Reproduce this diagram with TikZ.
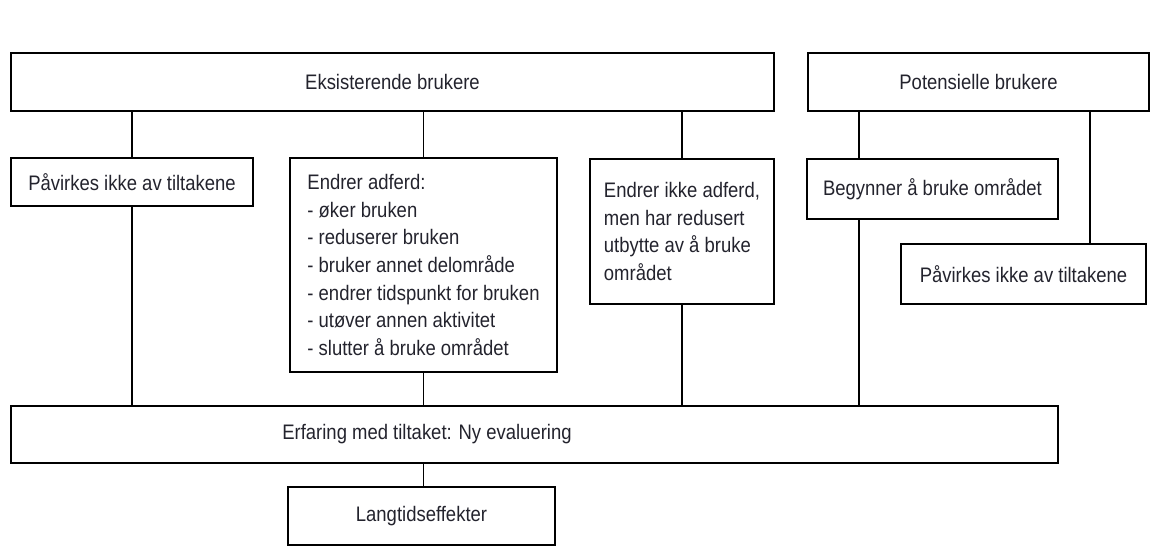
\documentclass[tikz,border=0pt]{standalone}
\usepackage{fontspec}
\setmainfont{Liberation Sans}[FakeStretch=0.88]
\usepackage{xcolor}
\definecolor{tekst}{RGB}{35,35,45}

\begin{document}
\begin{tikzpicture}[x=1pt,y=-1pt,
  font=\fontsize{21pt}{27.7pt}\selectfont,
  boks/.style={draw, line width=1.3pt, text=tekst, inner sep=0pt},
  linje/.style={line width=1.3pt}]

\useasboundingbox (0,0) rectangle (1157,556);

\node[boks, minimum width=763, minimum height=58] (eks) at (392.5,82) {Eksisterende brukere};
\node[boks, minimum width=341, minimum height=58] (pot) at (978.5,82) {Potensielle brukere};

\node[boks, minimum width=242, minimum height=48] (ikke) at (132,182) {Påvirkes ikke av tiltakene};
\node[boks, minimum width=267, minimum height=214, align=left] (endrer) at (423.5,265)
  {Endrer adferd:\\- øker bruken\\- reduserer bruken\\- bruker annet delområde\\- endrer tidspunkt for bruken\\- utøver annen aktivitet\\- slutter å bruke området};
\node[boks, minimum width=184, minimum height=145, align=left] (endrerikke) at (682,231.5)
  {Endrer ikke adferd,\\men har redusert\\utbytte av å bruke\\området};
\node[boks, minimum width=251, minimum height=60] (begynner) at (932.5,189) {Begynner å bruke området};
\node[boks, minimum width=245, minimum height=60] (ikkepot) at (1023.5,274) {Påvirkes ikke av tiltakene};

\node[boks, minimum width=1047, minimum height=57,
  label={[text=tekst, xshift=-107.5]center:Erfaring med tiltaket: Ny evaluering}] (erfaring) at (534.5,434.5) {};
\node[boks, minimum width=267, minimum height=58] (lang) at (421.5,516) {Langtidseffekter};

\coordinate (pv) at (859,0);
\coordinate (ph) at (1090,0);

% eksisterende brukere
\draw[linje] (ikke.north) -- (ikke.north |- eks.south);
\draw[linje] (ikke.south) -- (ikke.south |- erfaring.north);
\draw[linje] (endrer.north) -- (endrer.north |- eks.south);
\draw[linje] (endrer.south) -- (endrer.south |- erfaring.north);
\draw[linje] (endrerikke.north) -- (endrerikke.north |- eks.south);
\draw[linje] (endrerikke.south) -- (endrerikke.south |- erfaring.north);

% potensielle brukere
\draw[linje] (pot.south -| pv) -- (begynner.north -| pv);
\draw[linje] (begynner.south -| pv) -- (erfaring.north -| pv);
\draw[linje] (pot.south -| ph) -- (ikkepot.north -| ph);

\draw[linje] (erfaring.south -| endrer.south) -- (lang.north -| endrer.south);

\end{tikzpicture}
\end{document}
